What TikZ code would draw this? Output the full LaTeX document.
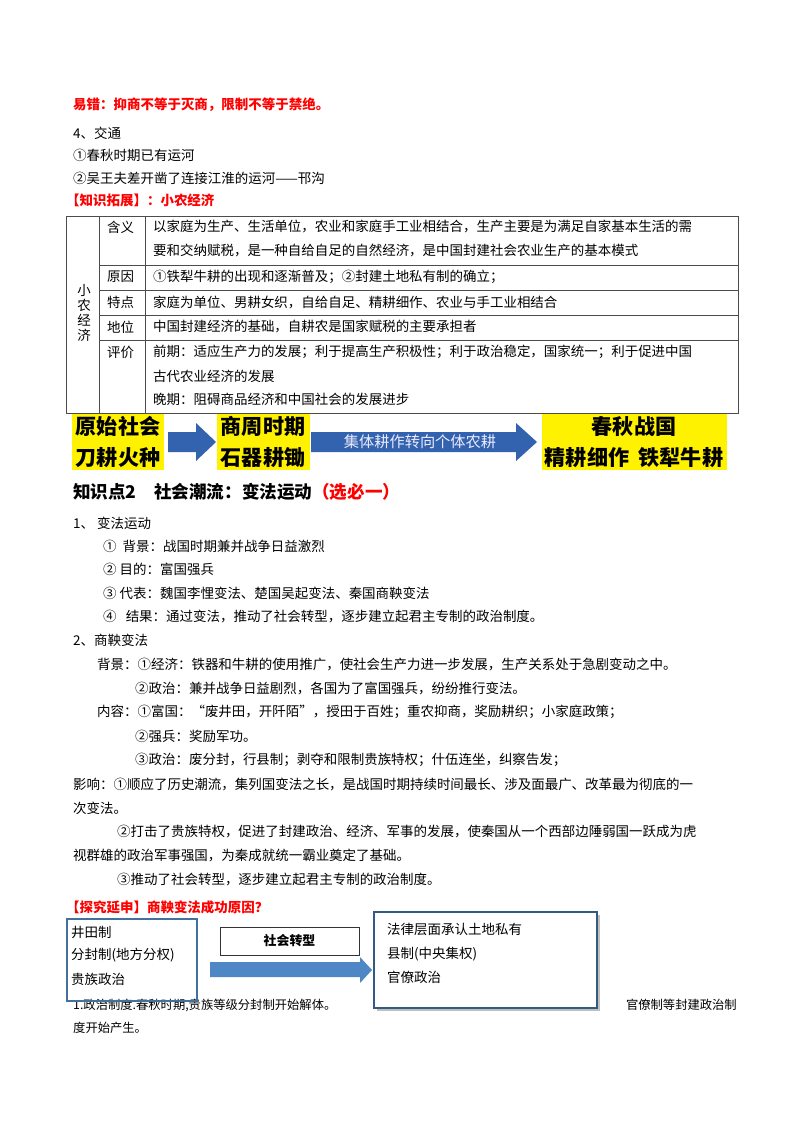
\documentclass[tikz,border=0pt]{standalone}
\usepackage{fontspec}
\setmainfont{Noto Sans CJK SC}
\usetikzlibrary{shapes.arrows}
\definecolor{ared}{HTML}{FF0000}
\definecolor{ablue}{HTML}{3363AE}
\definecolor{lblue}{HTML}{4F86C6}
\definecolor{bframe}{HTML}{41719C}
\tikzset{
 t/.style={anchor=west,inner sep=0pt,font=\fontsize{11.5}{14}\selectfont},
 rt/.style={t,text=ared,font=\fontsize{11.5}{14}\selectfont\bfseries},
 yt/.style={inner sep=0pt,font=\fontsize{18}{26}\selectfont\bfseries},
 tl/.style={draw=black!70,line width=0.6pt}
}
\begin{document}
\begin{tikzpicture}[x=0.03cm,y=-0.03cm]
\useasboundingbox (0,0) rectangle (800,1132);
\fill[white] (0,0) rectangle (800,1132);
\node[rt] (a1) at (73,105) {易错：抑商不等于灭商，限制不等于禁绝。};
\node[t] (a2) at (73,133) {4、交通};
\node[t] (a3) at (73,155) {①春秋时期已有运河};
\node[t] (a4) at (73,178) {②吴王夫差开凿了连接江淮的运河——邗沟};
\node[rt] (a5) at (66,200) {【知识拓展】：小农经济};
% table
\draw[tl] (66,216) rectangle (738,413);
\draw[tl] (99,216) -- (99,413);
\draw[tl] (145,216) -- (145,413);
\foreach \yy in {265,290,315,340} \draw[tl] (99,\yy) -- (738,\yy);
\node[align=center,inner sep=0pt,font=\fontsize{11.5}{13}\selectfont] (v) at (84,313) {小\\农\\经\\济};
\node[t] (c1) at (107,227) {含义};
\node[t] (c2) at (107,277) {原因};
\node[t] (c3) at (107,302) {特点};
\node[t] (c4) at (107,327) {地位};
\node[t] (c5) at (107,352) {评价};
\node[t] (d1) at (153,227) {以家庭为生产、生活单位，农业和家庭手工业相结合，生产主要是为满足自家基本生活的需};
\node[t] (d1b) at (153,251) {要和交纳赋税，是一种自给自足的自然经济，是中国封建社会农业生产的基本模式};
\node[t] (d2) at (153,277) {①铁犁牛耕的出现和逐渐普及；②封建土地私有制的确立；};
\node[t] (d3) at (153,302) {家庭为单位、男耕女织，自给自足、精耕细作、农业与手工业相结合};
\node[t] (d4) at (153,327) {中国封建经济的基础，自耕农是国家赋税的主要承担者};
\node[t] (d5) at (153,352) {前期：适应生产力的发展；利于提高生产积极性；利于政治稳定，国家统一；利于促进中国};
\node[t] (d5b) at (153,376) {古代农业经济的发展};
\node[t] (d5c) at (153,399) {晚期：阻碍商品经济和中国社会的发展进步};
% yellow row
\fill[yellow] (72,414) rectangle (164,470);
\node[yt,align=left] (y1t) at (118,442) {原始社会\\刀耕火种};
\fill[yellow] (217,414) rectangle (310,470);
\node[yt,align=left] (y2t) at (263,442) {商周时期\\石器耕锄};
\fill[yellow] (542,414) rectangle (727,470);
\node[yt,align=center] (y3t) at (634,442) {春秋战国\\精耕细作\ \ 铁犁牛耕};
\fill[ablue] (168,432) -- (196,432) -- (196,423) -- (216,442) -- (196,461) -- (196,452) -- (168,452) -- cycle;
\fill[ablue] (311,432) -- (516,432) -- (516,423) -- (537,442) -- (516,461) -- (516,452) -- (311,452) -- cycle;
\node[inner sep=0pt,text=white!92!blue,font=\fontsize{13}{16}\selectfont] (arl) at (420,442) {集体耕作转向个体农耕};
% section 2
\node[t,font=\fontsize{15}{18}\selectfont\bfseries] (h) at (73,492) {知识点2\quad 社会潮流：变法运动\textcolor{ared}{（选必一）}};
\node[t] (b1) at (73,523) {1、 变法运动};
\node[t] (b2) at (103,546) {①\ \ 背景：战国时期兼并战争日益激烈};
\node[t] (b3) at (103,569) {②\ 目的：富国强兵};
\node[t] (b4) at (103,593) {③\ 代表：魏国李悝变法、楚国吴起变法、秦国商鞅变法};
\node[t] (b5) at (103,616) {④\ \ \ 结果：通过变法，推动了社会转型，逐步建立起君主专制的政治制度。};
\node[t] (b6) at (73,640) {2、商鞅变法};
\node[t] (b7) at (97,664) {背景：①经济：铁器和牛耕的使用推广，使社会生产力进一步发展，生产关系处于急剧变动之中。};
\node[t] (b8) at (135,688) {②政治：兼并战争日益剧烈，各国为了富国强兵，纷纷推行变法。};
\node[t] (b9) at (97,712) {内容：①富国：“废井田，开阡陌”，授田于百姓；重农抑商，奖励耕织；小家庭政策；};
\node[t] (b10) at (135,736) {②强兵：奖励军功。};
\node[t] (b11) at (135,760) {③政治：废分封，行县制；剥夺和限制贵族特权；什伍连坐，纠察告发；};
\node[t] (b12) at (73,784) {影响：①顺应了历史潮流，集列国变法之长，是战国时期持续时间最长、涉及面最广、改革最为彻底的一};
\node[t] (b13) at (73,808) {次变法。};
\node[t] (b14) at (117,832) {②打击了贵族特权，促进了封建政治、经济、军事的发展，使秦国从一个西部边陲弱国一跃成为虎};
\node[t] (b15) at (73,856) {视群雄的政治军事强国，为秦成就统一霸业奠定了基础。};
\node[t] (b16) at (117,880) {③推动了社会转型，逐步建立起君主专制的政治制度。};
\node[rt] (b17) at (66,907) {【探究延申】商鞅变法成功原因？};
% bottom diagram
\node[t,font=\fontsize{10.5}{13}\selectfont] (e1) at (73,1005) {1.政治制度.春秋时期,贵族等级分封制开始解体。};
\node[t,font=\fontsize{10.5}{13}\selectfont,anchor=east] (e2) at (737,1005) {官僚制等封建政治制};
\node[t,font=\fontsize{10.5}{13}\selectfont] (e3) at (73,1028) {度开始产生。};
\draw[bframe,line width=2.2pt] (67,919) rectangle (197,1001);
\node[t] (l1) at (71,932) {井田制};
\node[t] (l2) at (71,955) {分封制(地方分权)};
\node[t] (l3) at (71,979) {贵族政治};
\draw[black!80,line width=0.6pt] (220,927) rectangle (359,955);
\node[inner sep=0pt,font=\fontsize{11}{13}\selectfont\bfseries] (st) at (289.5,941) {社会转型};
\fill[lblue] (210,962) -- (360,962) -- (360,957) -- (372,970) -- (360,983) -- (360,977) -- (210,977) -- cycle;
\fill[black!25] (377,915) rectangle (600,1011);
\filldraw[fill=white,draw=bframe!80!black,line width=1.2pt] (374,912) rectangle (597,1008);
\node[t] (r1) at (387,929) {法律层面承认土地私有};
\node[t] (r2) at (387,954) {县制(中央集权)};
\node[t] (r3) at (387,977) {官僚政治};
\end{tikzpicture}
\end{document}
